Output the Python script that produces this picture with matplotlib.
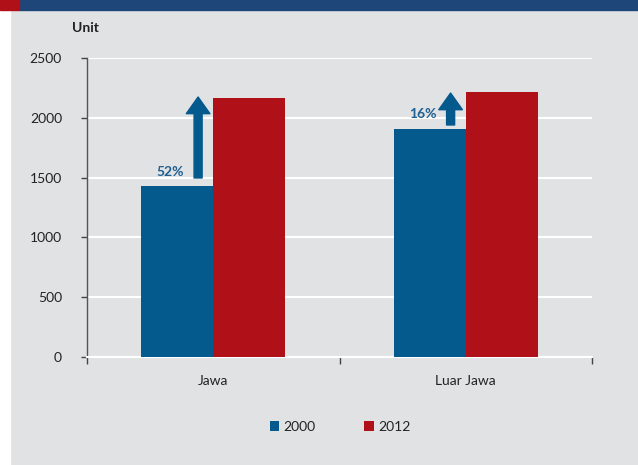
import matplotlib
matplotlib.use("Agg")
import matplotlib.pyplot as plt
from matplotlib.patches import Rectangle
import numpy as np

categories = ["Jawa", "Luar Jawa"]
years = ["2000", "2012"]
values_2000 = [1430, 1906]
values_2012 = [2165, 2215]
growth_labels = ["52%", "16%"]
arrow_base = [1497, 1940]
arrow_tip = [2174, 2207]
label_y = [1547, 2035]
yticks = [0, 500, 1000, 1500, 2000, 2500]

BLUE = "#045A8D"
RED = "#B01018"
BG = "#E1E2E4"
BAND = "#1E4679"
TXT = "#222222"

plt.rcParams['font.family'] = ['Lato', 'DejaVu Sans']

fig = plt.figure(figsize=(6.38, 4.65), dpi=100, facecolor=BG)
# left white strip and top band
fig.patches.append(Rectangle((0, 0), 10/638, 1, transform=fig.transFigure, color="white", zorder=0))
fig.patches.append(Rectangle((19/638, 1-10/465), 1, 10/465, transform=fig.transFigure, color=BAND, zorder=1))
fig.patches.append(Rectangle((0, 1-10/465), 19/638, 10/465, transform=fig.transFigure, color=RED, zorder=1))

ax = fig.add_axes([87/638, 108/465, 505/638, 299/465])
ax.set_facecolor(BG)

x = np.arange(len(categories))
w = 0.285
ax.bar(x - w/2, values_2000, w, color=BLUE, label=years[0], zorder=3)
ax.bar(x + w/2, values_2012, w, color=RED, label=years[1], zorder=3)

ax.set_xlim(-0.5, 1.5)
ax.set_ylim(0, 2500)
ax.set_yticks(yticks)
ax.set_yticklabels([str(v) for v in yticks], fontsize=10, color=TXT)
ax.yaxis.grid(True, color="white", linewidth=1.5, zorder=0)
ax.set_axisbelow(True)

ax.set_xticks(x)
ax.set_xticklabels(categories, fontsize=10, color=TXT)
ax.tick_params(axis='x', which='major', length=0, pad=13)
ax.set_xticks([-0.5, 0.5, 1.5], minor=True)
ax.tick_params(axis='x', which='minor', length=5, color="#444444", width=1)
ax.tick_params(axis='y', length=4, color="#444444", width=1, pad=14)

for s in ["top", "right"]:
    ax.spines[s].set_visible(False)
ax.spines["bottom"].set_color("white")
ax.spines["bottom"].set_linewidth(1.5)
ax.spines["left"].set_color("#555555")
ax.spines["left"].set_linewidth(1)

for i in range(len(categories)):
    ax_x = x[i] - 0.06
    ax.annotate("", xy=(ax_x, arrow_tip[i]), xytext=(ax_x, arrow_base[i]),
                arrowprops=dict(arrowstyle="simple,head_length=12,head_width=17,tail_width=5.8",
                                mutation_scale=1, color=BLUE, shrinkA=0, shrinkB=0), zorder=4)
    ax.annotate(growth_labels[i], xy=(ax_x, label_y[i]), xytext=(-10, 0), textcoords="offset points",
                ha="right", va="center", fontsize=10, fontweight="bold", color="#1F5F91", zorder=5)

fig.text(72/638, 1-28/465, "Unit", fontsize=10, fontweight="bold", color=TXT, ha="left", va="center")

fig.legend(loc="center", bbox_to_anchor=(340/638, 1-427/465), ncol=2, frameon=False,
           fontsize=10, handlelength=0.7, handleheight=0.7, handletextpad=0.3,
           columnspacing=3.5, labelcolor=TXT)

fig.savefig("out.png", dpi=100, facecolor=BG)
